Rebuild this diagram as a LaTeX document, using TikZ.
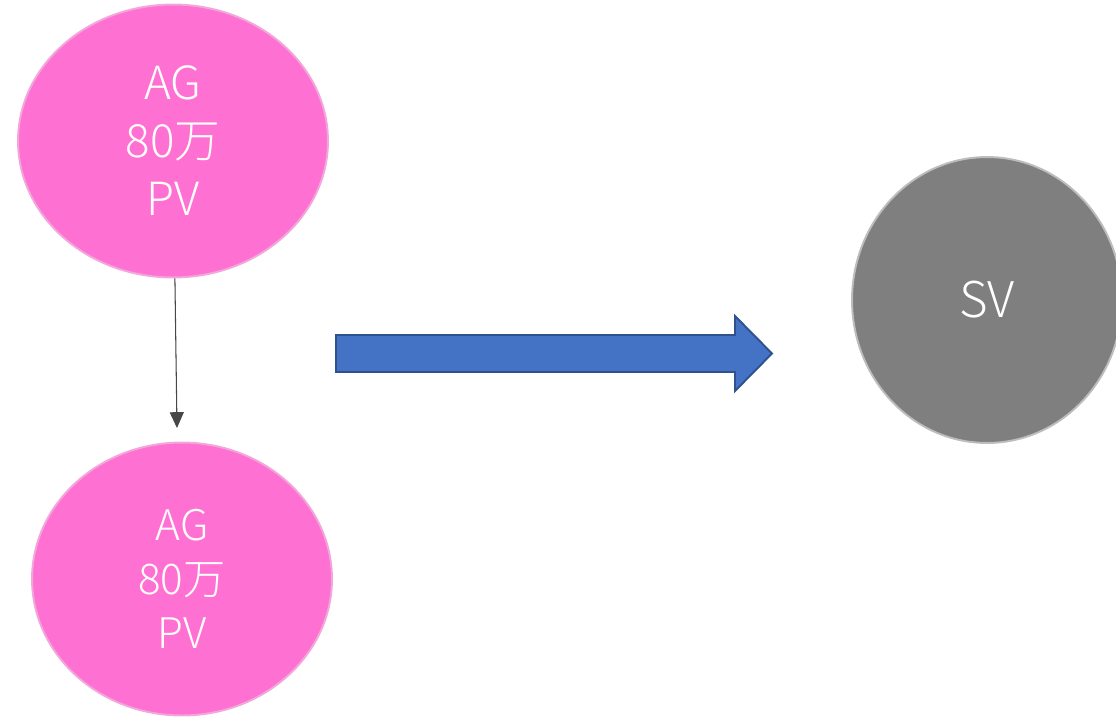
\documentclass[tikz,border=0pt]{standalone}
\usepackage{fontspec}
\setmainfont{Noto Sans CJK JP Light}
\usetikzlibrary{arrows.meta,shapes.geometric}
\definecolor{agpink}{HTML}{FF70D3}
\definecolor{agedge}{HTML}{F2A7DA}
\definecolor{svgray}{HTML}{7F7F7F}
\definecolor{svedge}{HTML}{BDBDBD}
\definecolor{bigblue}{HTML}{4472C4}
\definecolor{bigedge}{HTML}{2F528F}
\tikzset{
  agnode/.style={ellipse, fill=agpink, draw=agedge, line width=1.1pt, text=white, inner sep=0pt, align=center},
  svnode/.style={ellipse, fill=svgray, draw=svedge, line width=1.1pt, text=white, inner sep=0pt},
}
\begin{document}
\begin{tikzpicture}[x=0.02cm, y=-0.02cm]
            \useasboundingbox (0,0) rectangle (1116,717);
            \node[agnode, minimum width=6.2cm, minimum height=5.46cm, font=\fontsize{26}{33}\selectfont] (AGtop) at (173,141) {AG\\80万\\PV};
            \node[agnode, minimum width=6cm, minimum height=5.46cm, font=\fontsize{24}{30.6}\selectfont] (AGlow) at (182,579) {AG\\80万\\PV};
            \node[svnode, minimum width=5.4cm, minimum height=5.72cm, font=\fontsize{28}{32}\selectfont] (SV) at (987,300) {SV};
            \coordinate (AGtip) at (177,428);

            \draw (AGtop) edge[-{Triangle[length=9pt, width=8pt]}, draw=black!72, fill=black!72, line width=0.6pt] (AGtip);
            \draw[fill=bigblue, draw=bigedge, line width=1.1pt]
              (336,335) -- (735,335) -- (735,316) -- (772,353.5) -- (735,391) -- (735,372) -- (336,372) -- cycle;
        \end{tikzpicture}
\end{document}
